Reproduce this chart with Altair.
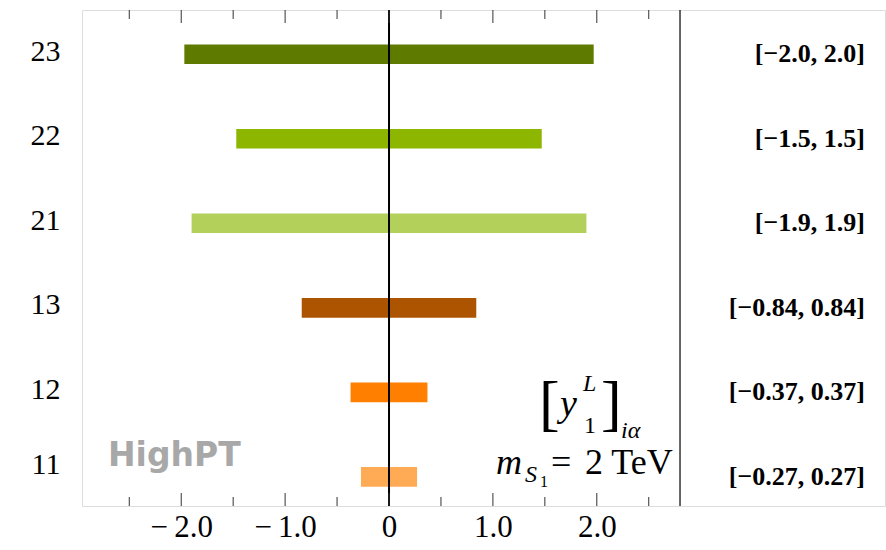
import altair as alt
import pandas as pd

# Coupling bounds for [y_1^L]_{i alpha}, m_S1 = 2 TeV
couplings = ["23", "22", "21", "13", "12", "11"]
lower = [-1.97, -1.47, -1.90, -0.84, -0.37, -0.27]
upper = [1.97, 1.47, 1.90, 0.84, 0.37, 0.27]
bar_colors = ["#5e7b00", "#8cb600", "#b2d05a", "#ac5400", "#ff7f00", "#ffaa55"]
row_slot = [5, 4, 3, 2, 1, 0]

major_ticks = [-2.0, -1.0, 0.0, 1.0, 2.0]
minor_ticks = [-2.5, -1.5, -0.5, 0.5, 1.5, 2.5]

X_DOMAIN = [-2.955, 4.774]   # left part holds the bars, right part the interval labels
PANEL_SPLIT = 2.801
Y_DOMAIN = [-0.285, 5.464]
W, H = 803, 496
SERIF = "Liberation Serif"

df = pd.DataFrame({
    "coupling": couplings,
    "lo": lower,
    "hi": upper,
    "slot": row_slot,
    "color": bar_colors,
})

labels_by_slot = [c for _, c in sorted(zip(row_slot, couplings))]
y_label_expr = "[" + ",".join(f"'{c}'" for c in labels_by_slot) + "][datum.value]"

x_scale = alt.Scale(domain=X_DOMAIN, nice=False, zero=False)
y_scale = alt.Scale(domain=Y_DOMAIN, nice=False, zero=False)

x_axis = alt.Axis(
    values=major_ticks,
    labelExpr="datum.value == 0 ? '0' : (datum.value < 0 ? '\u2212\u2009' : '') + format(abs(datum.value), '.1f')",
    tickSize=0, domain=False, grid=False, title=None,
    labelFont=SERIF, labelFontSize=31, labelColor="black", labelPadding=6,
)
y_axis = alt.Axis(
    values=row_slot,
    labelExpr=y_label_expr,
    tickSize=0, domain=False, grid=False, title=None,
    labelFont=SERIF, labelFontSize=30, labelColor="black", labelPadding=22,
    labelOffset={"condition": {"test": "datum.value == 0", "value": -12}, "value": -3},
)

X = lambda f: alt.X(f, scale=x_scale, axis=x_axis)
Y = lambda f: alt.Y(f, scale=y_scale, axis=y_axis)

bars = alt.Chart(df).mark_bar(size=19.6).encode(
    x=X("lo:Q"),
    x2="hi:Q",
    y=Y("slot:Q"),
    color=alt.Color("color:N", scale=None),
)

range_labels = alt.Chart(df).transform_calculate(
    txt="'[' + format(datum.lo, '.2r') + ', ' + format(datum.hi, '.2r') + ']'"
).mark_text(
    align="right", baseline="middle", font=SERIF, fontSize=26, fontWeight="bold", color="black"
).encode(
    x=alt.value(783),
    y=Y("slot:Q"),
    text="txt:N",
)

tick_major = pd.DataFrame({"v": major_ticks})
tick_minor = pd.DataFrame({"v": minor_ticks})


def ticks(frame, length):
    bottom = alt.Chart(frame).mark_rule(color="#333", strokeWidth=1).encode(
        x=X("v:Q"), y=alt.value(H), y2=alt.value(H - length)
    )
    top = alt.Chart(frame).mark_rule(color="#333", strokeWidth=1).encode(
        x=X("v:Q"), y=alt.value(0), y2=alt.value(length)
    )
    return [bottom, top]


zero_line = alt.Chart(pd.DataFrame({"v": [0.0]})).mark_rule(color="black", strokeWidth=2).encode(
    x=X("v:Q"), y=alt.value(0), y2=alt.value(H)
)
divider = alt.Chart(pd.DataFrame({"v": [PANEL_SPLIT]})).mark_rule(color="black", strokeWidth=1.2).encode(
    x=X("v:Q"), y=alt.value(0), y2=alt.value(H)
)


def note(text, px, py, size, font=SERIF, style="normal", weight="normal", color="black"):
    return alt.Chart(pd.DataFrame({"t": [text]})).mark_text(
        align="left", baseline="alphabetic", font=font, fontSize=size,
        fontStyle=style, fontWeight=weight, color=color,
    ).encode(text="t:N", x=alt.value(px), y=alt.value(py))


notes = [
    note("HighPT", 26, 456, 33, font="DejaVu Sans", weight="bold", color="#a8a8a8"),
    note("[", 457, 414, 62),
    note("y", 478, 406, 38, style="italic"),
    note("L", 501, 381, 24, style="italic"),
    note("1", 502, 423, 24),
    note("]", 519, 414, 62),
    note("i\u03b1", 539, 428, 24, style="italic"),
    note("m", 414, 464, 36, style="italic"),
    note("S", 443, 472, 24, style="italic"),
    note("1", 458, 477, 16),
    note("=", 469, 464, 36),
    note("2 TeV", 503, 464, 36),
]

layers = [bars, zero_line, divider, range_labels] + ticks(tick_major, 13) + ticks(tick_minor, 9) + notes

chart = alt.layer(*layers).properties(
    width=W,
    height=H,
    autosize=alt.AutoSizeParams(type="none"),
    padding={"left": 82, "top": 10, "right": 1, "bottom": 44},
).configure_view(stroke="#333", strokeWidth=1).configure(background="white")

chart.save("out.html", embed_options={"renderer": "svg", "actions": False})
